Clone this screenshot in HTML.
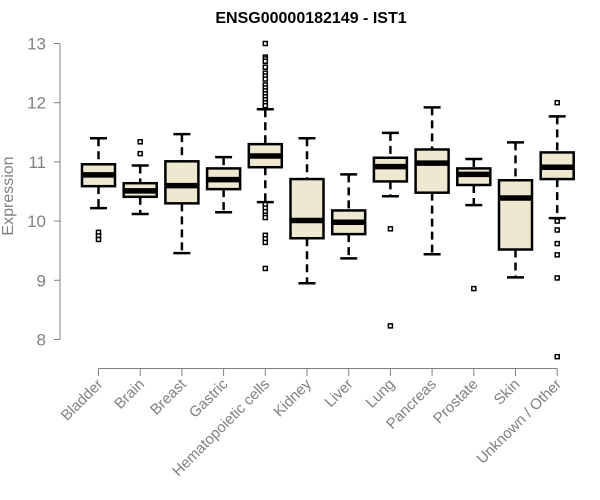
<!DOCTYPE html>
<html><head><meta charset="utf-8"><style>
body{margin:0;background:#fff}
svg{display:block;font-family:"Liberation Sans",sans-serif}
</style></head><body>
<svg id="chart" width="600" height="500">
<text x="311" y="23" text-anchor="middle" font-weight="bold" font-size="16">ENSG00000182149 - IST1</text>
<text transform="translate(13,196) rotate(-90)" text-anchor="middle" font-size="16" fill="#808080">Expression</text>
<g id="axes"></g><g id="boxes"></g>
</svg>
<script>
const categories=["Bladder","Brain","Breast","Gastric","Hematopoietic cells","Kidney","Liver","Lung","Pancreas","Prostate","Skin","Unknown / Other"];
const whiskerLow=[10.22,10.12,9.46,10.15,10.32,8.95,9.37,10.42,9.44,10.27,9.05,10.05];
const q1=[10.59,10.41,10.30,10.54,10.91,9.71,9.78,10.67,10.48,10.61,9.52,10.71];
const medians=[10.78,10.51,10.60,10.70,11.10,10.01,9.98,10.92,10.98,10.79,10.39,10.91];
const q3=[10.96,10.64,11.01,10.89,11.30,10.71,10.18,11.07,11.21,10.89,10.69,11.16];
const whiskerHigh=[11.40,10.94,11.47,11.08,11.89,11.40,10.79,11.49,11.92,11.05,11.33,11.77];
const outliers=[[9.81,9.75,9.69],[11.34,11.14],[],[],[13.0,12.77,12.74,12.7,12.6,12.5,12.45,12.4,12.3,12.25,12.2,12.15,12.1,12.05,12.0,11.95,10.28,10.22,10.16,10.1,10.06,9.76,9.7,9.64,9.2],[],[],[9.87,8.23],[],[8.86],[],[12.0,10.0,9.85,9.62,9.43,9.04,7.71]];
const yTicks=[8,9,10,11,12,13];
const NS="http://www.w3.org/2000/svg";
const y=v=>339.5-(v-8)*59.2;
const x=i=>98.5+i*41.7;
function mk(tag,at,parent){const e=document.createElementNS(NS,tag);for(const k in at)e.setAttribute(k,at[k]);parent.appendChild(e);return e;}
const ax=document.getElementById('axes'),bx=document.getElementById('boxes');
let e=mk('line',{x1:60,x2:60,y1:y(13),y2:y(8),stroke:'#808080'},ax);


yTicks.forEach(t=>{
 let l=mk('line',{x1:54,x2:60,y1:y(t),y2:y(t),stroke:'#808080'},ax);
 
 
 let s=mk('text',{x:46,y:y(t)+6,'text-anchor':'end','font-size':17,fill:'#808080'},ax);
 s.textContent=t;
 
 
});
e=mk('line',{x1:x(0),x2:x(categories.length-1),y1:368.5,y2:368.5,stroke:'#808080'},ax);


categories.forEach((c,i)=>{
 const cx=x(i);
 let l=mk('line',{x1:cx,x2:cx,y1:368.5,y2:376,stroke:'#808080'},ax);
 
 
 let s=mk('text',{x:cx+5,y:385,'text-anchor':'end','font-size':15,fill:'#808080',transform:`rotate(-45 ${cx+5} 385)`},ax);
 s.textContent=c;
 
 
 const g=mk('g',{},bx);
 
 
 mk('line',{x1:cx,x2:cx,y1:y(whiskerHigh[i]),y2:y(q3[i]),stroke:'#000','stroke-width':2.5,'stroke-dasharray':'8,5'},g);
 mk('line',{x1:cx,x2:cx,y1:y(q1[i]),y2:y(whiskerLow[i]),stroke:'#000','stroke-width':2.5,'stroke-dasharray':'8,5'},g);
 mk('line',{x1:cx-8.5,x2:cx+8.5,y1:y(whiskerHigh[i]),y2:y(whiskerHigh[i]),stroke:'#000','stroke-width':2.5},g);
 mk('line',{x1:cx-8.5,x2:cx+8.5,y1:y(whiskerLow[i]),y2:y(whiskerLow[i]),stroke:'#000','stroke-width':2.5},g);
 mk('rect',{x:cx-16.5,y:y(q3[i]),width:33,height:y(q1[i])-y(q3[i]),fill:'#ede8cf',stroke:'#000','stroke-width':2.5},g);
 mk('line',{x1:cx-16.5,x2:cx+16.5,y1:y(medians[i]),y2:y(medians[i]),stroke:'#000','stroke-width':5.5},g);
 outliers[i].forEach(v=>{
  let r=mk('rect',{x:cx-2,y:y(v)-2,width:4,height:4,fill:'#fff',stroke:'#000','stroke-width':1.5},g);
  
  
 });
});
</script>
</body></html>
